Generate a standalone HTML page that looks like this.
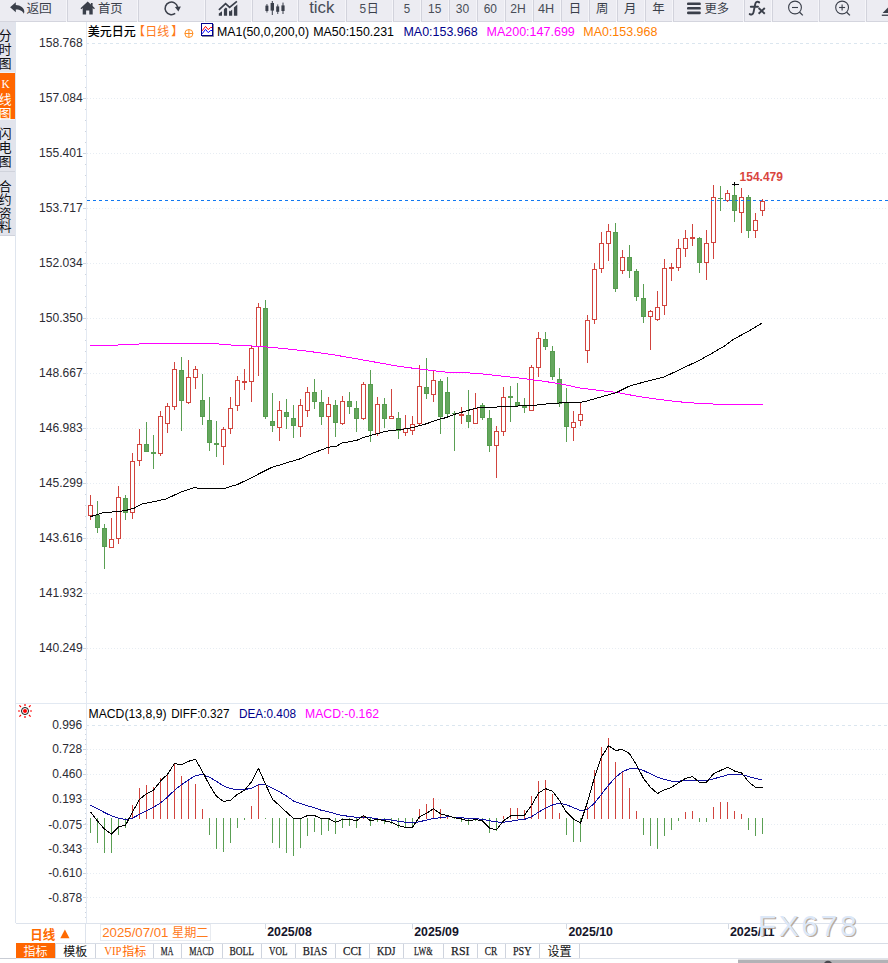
<!DOCTYPE html>
<html><head><meta charset="utf-8"><title>USDJPY</title>
<style>html,body{margin:0;padding:0;background:#fff;overflow:hidden}svg{display:block}</style>
</head><body>
<svg width="888" height="963" viewBox="0 0 888 963">
<rect width="888" height="963" fill="#fff"/>
<rect x="0" y="0" width="888" height="21" fill="#ececf2"/>
<rect x="0" y="21" width="888" height="1" fill="#d4d5de"/>
<rect x="67" y="0" width="1" height="21" fill="#d2d3dc"/>
<rect x="66" y="0" width="1" height="22" fill="#f5f5f9"/>
<rect x="138" y="0" width="1" height="21" fill="#d2d3dc"/>
<rect x="137" y="0" width="1" height="22" fill="#f5f5f9"/>
<rect x="205" y="0" width="1" height="21" fill="#d2d3dc"/>
<rect x="204" y="0" width="1" height="22" fill="#f5f5f9"/>
<rect x="252" y="0" width="1" height="21" fill="#d2d3dc"/>
<rect x="251" y="0" width="1" height="22" fill="#f5f5f9"/>
<rect x="298" y="0" width="1" height="21" fill="#d2d3dc"/>
<rect x="297" y="0" width="1" height="22" fill="#f5f5f9"/>
<rect x="346" y="0" width="1" height="21" fill="#d2d3dc"/>
<rect x="345" y="0" width="1" height="22" fill="#f5f5f9"/>
<rect x="393" y="0" width="1" height="21" fill="#d2d3dc"/>
<rect x="392" y="0" width="1" height="22" fill="#f5f5f9"/>
<rect x="421" y="0" width="1" height="21" fill="#d2d3dc"/>
<rect x="420" y="0" width="1" height="22" fill="#f5f5f9"/>
<rect x="449" y="0" width="1" height="21" fill="#d2d3dc"/>
<rect x="448" y="0" width="1" height="22" fill="#f5f5f9"/>
<rect x="477" y="0" width="1" height="21" fill="#d2d3dc"/>
<rect x="476" y="0" width="1" height="22" fill="#f5f5f9"/>
<rect x="505" y="0" width="1" height="21" fill="#d2d3dc"/>
<rect x="504" y="0" width="1" height="22" fill="#f5f5f9"/>
<rect x="533" y="0" width="1" height="21" fill="#d2d3dc"/>
<rect x="532" y="0" width="1" height="22" fill="#f5f5f9"/>
<rect x="561" y="0" width="1" height="21" fill="#d2d3dc"/>
<rect x="560" y="0" width="1" height="22" fill="#f5f5f9"/>
<rect x="589" y="0" width="1" height="21" fill="#d2d3dc"/>
<rect x="588" y="0" width="1" height="22" fill="#f5f5f9"/>
<rect x="617" y="0" width="1" height="21" fill="#d2d3dc"/>
<rect x="616" y="0" width="1" height="22" fill="#f5f5f9"/>
<rect x="645" y="0" width="1" height="21" fill="#d2d3dc"/>
<rect x="644" y="0" width="1" height="22" fill="#f5f5f9"/>
<rect x="673" y="0" width="1" height="21" fill="#d2d3dc"/>
<rect x="672" y="0" width="1" height="22" fill="#f5f5f9"/>
<rect x="744" y="0" width="1" height="21" fill="#d2d3dc"/>
<rect x="743" y="0" width="1" height="22" fill="#f5f5f9"/>
<rect x="772" y="0" width="1" height="21" fill="#d2d3dc"/>
<rect x="771" y="0" width="1" height="22" fill="#f5f5f9"/>
<rect x="819" y="0" width="1" height="21" fill="#d2d3dc"/>
<rect x="818" y="0" width="1" height="22" fill="#f5f5f9"/>
<rect x="866" y="0" width="1" height="21" fill="#d2d3dc"/>
<rect x="865" y="0" width="1" height="22" fill="#f5f5f9"/>
<path d="M10.1 7.3 L15.8 2.3 V5 C20.5 5 24.3 8 24.3 11.4 C24.3 12.4 24.1 13 23.8 13.7 C22.6 11 20.4 9.5 15.8 9.4 V12.2 Z" fill="#3a3f4a"/>
<text x="26.40" y="12.90" font-size="12.4" fill="#3a3f4a" text-anchor="start" font-family="Liberation Sans, Noto Sans CJK SC, sans-serif" textLength="25.40" lengthAdjust="spacingAndGlyphs">返回</text>
<path d="M87.7 1.5 L90.9 4.4 V3 H92.6 V6 L94.9 8.2 L94 9.2 L92.7 8 V14.6 H89.3 V10.4 H86.1 V14.6 H82.7 V8 L81.4 9.2 L80.5 8.2 Z" fill="#3a3f4a"/>
<text x="97.90" y="12.90" font-size="12.4" fill="#3a3f4a" text-anchor="start" font-family="Liberation Sans, Noto Sans CJK SC, sans-serif" textLength="24.70" lengthAdjust="spacingAndGlyphs">首页</text>
<path d="M175.2 13.4 A6.3 6.3 0 1 1 177.6 7.0" fill="none" stroke="#3a3f4a" stroke-width="1.5"/>
<path d="M174.9 7.1 L180.9 6.6 L178.4 11.6 Z" fill="#3a3f4a"/>
<g fill="#3a3f4a"><path d="M218.8 13.6 L222 11.2 V15.8 H218.8 Z"/><path d="M223.9 9.2 L225.8 7.4 L227.1 8.6 V15.8 H223.9 Z"/><path d="M229 10.6 L230 11.4 L232.2 9.4 V15.8 H229 Z"/><path d="M233.9 7.6 L237.3 4.6 V15.8 H233.9 Z"/></g>
<path d="M218.9 9.9 L225.6 3.7 L229.6 7.3 L236.9 1.3" fill="none" stroke="#3a3f4a" stroke-width="1.7"/>
<g fill="#3a3f4a"><rect x="265.4" y="5.6" width="3" height="5.4"/><rect x="266.5" y="4" width="0.9" height="8.6"/><rect x="270.6" y="3" width="3.4" height="7.6"/><rect x="271.8" y="1" width="1" height="14"/><rect x="276.2" y="6.4" width="3" height="5.4"/><rect x="277.3" y="4.4" width="0.9" height="9.6"/><rect x="281.4" y="5.4" width="3.2" height="5.6"/><rect x="282.5" y="2.6" width="1" height="11.4"/></g>
<text x="309.20" y="13.30" font-size="16" fill="#484c57" text-anchor="start" font-weight="normal" font-family="Liberation Sans, sans-serif" textLength="25.30" lengthAdjust="spacingAndGlyphs">tick</text>
<text x="359.50" y="12.80" font-size="13" fill="#484c57" text-anchor="start" font-weight="normal" font-family="Liberation Sans, sans-serif" textLength="6.60" lengthAdjust="spacingAndGlyphs">5</text>
<text x="366.80" y="12.80" font-size="12" fill="#3a3f4a" text-anchor="start" font-family="Liberation Sans, Noto Sans CJK SC, sans-serif">日</text>
<text x="403.70" y="12.80" font-size="13" fill="#484c57" text-anchor="start" font-weight="normal" font-family="Liberation Sans, sans-serif" textLength="6.40" lengthAdjust="spacingAndGlyphs">5</text>
<text x="428.00" y="12.80" font-size="13" fill="#484c57" text-anchor="start" font-weight="normal" font-family="Liberation Sans, sans-serif" textLength="13.30" lengthAdjust="spacingAndGlyphs">15</text>
<text x="455.80" y="12.80" font-size="13" fill="#484c57" text-anchor="start" font-weight="normal" font-family="Liberation Sans, sans-serif" textLength="13.40" lengthAdjust="spacingAndGlyphs">30</text>
<text x="483.70" y="12.80" font-size="13" fill="#484c57" text-anchor="start" font-weight="normal" font-family="Liberation Sans, sans-serif" textLength="13.30" lengthAdjust="spacingAndGlyphs">60</text>
<text x="510.30" y="12.80" font-size="13" fill="#484c57" text-anchor="start" font-weight="normal" font-family="Liberation Sans, sans-serif" textLength="15.50" lengthAdjust="spacingAndGlyphs">2H</text>
<text x="538.00" y="12.80" font-size="13" fill="#484c57" text-anchor="start" font-weight="normal" font-family="Liberation Sans, sans-serif" textLength="16.20" lengthAdjust="spacingAndGlyphs">4H</text>
<text x="568.70" y="12.90" font-size="12.4" fill="#3a3f4a" text-anchor="start" font-family="Liberation Sans, Noto Sans CJK SC, sans-serif">日</text>
<text x="596.10" y="12.90" font-size="12.4" fill="#3a3f4a" text-anchor="start" font-family="Liberation Sans, Noto Sans CJK SC, sans-serif">周</text>
<text x="623.90" y="12.90" font-size="12.4" fill="#3a3f4a" text-anchor="start" font-family="Liberation Sans, Noto Sans CJK SC, sans-serif">月</text>
<text x="652.20" y="12.90" font-size="12.4" fill="#3a3f4a" text-anchor="start" font-family="Liberation Sans, Noto Sans CJK SC, sans-serif">年</text>
<rect x="687" y="2.4" width="13.8" height="2.7" rx="1.2" fill="#3a3f4a"/>
<rect x="687" y="6.9" width="13.8" height="2.7" rx="1.2" fill="#3a3f4a"/>
<rect x="687" y="11.5" width="13.8" height="2.7" rx="1.2" fill="#3a3f4a"/>
<text x="704.50" y="12.90" font-size="12.4" fill="#3a3f4a" text-anchor="start" font-family="Liberation Sans, Noto Sans CJK SC, sans-serif" textLength="24.60" lengthAdjust="spacingAndGlyphs">更多</text>
<path d="M759.2 2.4 C757.6 1.3 755.7 1.7 755.2 4.2 L753.5 12.4 C753 14.6 751.4 15 749.7 14.1 M750.8 6.8 H758" fill="none" stroke="#3a3f4a" stroke-width="1.9" stroke-linecap="round"/>
<path d="M758.6 8 L764.8 13.8 M764.8 8 L758.6 13.8" stroke="#3a3f4a" stroke-width="1.9" fill="none"/>
<circle cx="795" cy="7.5" r="6.4" fill="none" stroke="#3a3f4a" stroke-width="1.1"/>
<path d="M799.6 12.2 L802.8 15.4" stroke="#3a3f4a" stroke-width="1.3"/>
<path d="M792 7.5 H798" stroke="#3a3f4a" stroke-width="1.1"/>
<circle cx="842.1" cy="7.5" r="6.4" fill="none" stroke="#3a3f4a" stroke-width="1.1"/>
<path d="M846.7 12.2 L849.9 15.4" stroke="#3a3f4a" stroke-width="1.3"/>
<path d="M839.1 7.5 H845.1" stroke="#3a3f4a" stroke-width="1.1"/>
<path d="M842.1 4.5 V10.5" stroke="#3a3f4a" stroke-width="1.1"/>
<path d="M888 7.6 L882.6 13 H888 Z" fill="#3a3f4a"/>
<rect x="881.8" y="14.6" width="6.2" height="1.3" fill="#3a3f4a"/>
<rect x="0" y="22" width="15" height="214" fill="#e2e4ec"/>
<rect x="15" y="22" width="1" height="901" fill="#dfe5ee"/>
<rect x="0" y="73" width="15" height="46" fill="#ff6600"/>
<rect x="0" y="72" width="15" height="1" fill="#eef0f5"/>
<rect x="0" y="119" width="15" height="1" fill="#eef0f5"/>
<rect x="0" y="171" width="15" height="1" fill="#d0d3dc"/>
<rect x="0" y="235" width="15" height="1" fill="#d0d3dc"/>
<g fill="#101014" font-size="12.8" font-family="Liberation Sans, Noto Sans CJK SC, sans-serif"><text x="-1.20" y="40.40">分</text><text x="-1.20" y="54.40">时</text><text x="-1.20" y="68.40">图</text></g>
<text x="5.6" y="87.8" font-size="11.5" fill="#fff" text-anchor="middle" font-family="Liberation Serif, serif">K</text>
<g fill="#fff" font-size="12.8" font-family="Liberation Sans, Noto Sans CJK SC, sans-serif"><text x="-1.20" y="103.80">线</text><text x="-1.20" y="117.80">图</text></g>
<g fill="#101014" font-size="12.8" font-family="Liberation Sans, Noto Sans CJK SC, sans-serif"><text x="-1.20" y="138.00">闪</text><text x="-1.20" y="151.80">电</text><text x="-1.20" y="165.60">图</text></g>
<g fill="#101014" font-size="12.8" font-family="Liberation Sans, Noto Sans CJK SC, sans-serif"><text x="-1.20" y="190.60">合</text><text x="-1.20" y="204.20">约</text><text x="-1.20" y="217.80">资</text><text x="-1.20" y="231.40">料</text></g>
<line x1="86.5" y1="22" x2="86.5" y2="923" stroke="#e3e9f2" stroke-width="1"/>
<text x="82.70" y="47.40" font-size="12" fill="#2b2b33" text-anchor="end" font-weight="normal" font-family="Liberation Sans, sans-serif" textLength="43.60" lengthAdjust="spacingAndGlyphs">158.768</text>
<line x1="86" y1="43.5" x2="888" y2="43.5" stroke="#dbe6ef" stroke-width="1" stroke-dasharray="3 3"/>
<text x="82.70" y="102.40" font-size="12" fill="#2b2b33" text-anchor="end" font-weight="normal" font-family="Liberation Sans, sans-serif" textLength="43.60" lengthAdjust="spacingAndGlyphs">157.084</text>
<line x1="87" y1="98.5" x2="888" y2="98.5" stroke="#e7edf3" stroke-width="1" stroke-dasharray="1 2"/>
<text x="82.70" y="157.40" font-size="12" fill="#2b2b33" text-anchor="end" font-weight="normal" font-family="Liberation Sans, sans-serif" textLength="43.60" lengthAdjust="spacingAndGlyphs">155.401</text>
<line x1="87" y1="153.5" x2="888" y2="153.5" stroke="#e7edf3" stroke-width="1" stroke-dasharray="1 2"/>
<text x="82.70" y="212.40" font-size="12" fill="#2b2b33" text-anchor="end" font-weight="normal" font-family="Liberation Sans, sans-serif" textLength="43.60" lengthAdjust="spacingAndGlyphs">153.717</text>
<line x1="87" y1="208.5" x2="888" y2="208.5" stroke="#e7edf3" stroke-width="1" stroke-dasharray="1 2"/>
<text x="82.70" y="267.40" font-size="12" fill="#2b2b33" text-anchor="end" font-weight="normal" font-family="Liberation Sans, sans-serif" textLength="43.60" lengthAdjust="spacingAndGlyphs">152.034</text>
<line x1="87" y1="263.5" x2="888" y2="263.5" stroke="#e7edf3" stroke-width="1" stroke-dasharray="1 2"/>
<text x="82.70" y="322.40" font-size="12" fill="#2b2b33" text-anchor="end" font-weight="normal" font-family="Liberation Sans, sans-serif" textLength="43.60" lengthAdjust="spacingAndGlyphs">150.350</text>
<line x1="87" y1="318.5" x2="888" y2="318.5" stroke="#e7edf3" stroke-width="1" stroke-dasharray="1 2"/>
<text x="82.70" y="377.40" font-size="12" fill="#2b2b33" text-anchor="end" font-weight="normal" font-family="Liberation Sans, sans-serif" textLength="43.60" lengthAdjust="spacingAndGlyphs">148.667</text>
<line x1="87" y1="373.5" x2="888" y2="373.5" stroke="#e7edf3" stroke-width="1" stroke-dasharray="1 2"/>
<text x="82.70" y="432.40" font-size="12" fill="#2b2b33" text-anchor="end" font-weight="normal" font-family="Liberation Sans, sans-serif" textLength="43.60" lengthAdjust="spacingAndGlyphs">146.983</text>
<line x1="87" y1="428.5" x2="888" y2="428.5" stroke="#e7edf3" stroke-width="1" stroke-dasharray="1 2"/>
<text x="82.70" y="487.40" font-size="12" fill="#2b2b33" text-anchor="end" font-weight="normal" font-family="Liberation Sans, sans-serif" textLength="43.60" lengthAdjust="spacingAndGlyphs">145.299</text>
<line x1="87" y1="483.5" x2="888" y2="483.5" stroke="#e7edf3" stroke-width="1" stroke-dasharray="1 2"/>
<text x="82.70" y="542.40" font-size="12" fill="#2b2b33" text-anchor="end" font-weight="normal" font-family="Liberation Sans, sans-serif" textLength="43.60" lengthAdjust="spacingAndGlyphs">143.616</text>
<line x1="87" y1="538.5" x2="888" y2="538.5" stroke="#e7edf3" stroke-width="1" stroke-dasharray="1 2"/>
<text x="82.70" y="597.40" font-size="12" fill="#2b2b33" text-anchor="end" font-weight="normal" font-family="Liberation Sans, sans-serif" textLength="43.60" lengthAdjust="spacingAndGlyphs">141.932</text>
<line x1="87" y1="593.5" x2="888" y2="593.5" stroke="#e7edf3" stroke-width="1" stroke-dasharray="1 2"/>
<text x="82.70" y="652.40" font-size="12" fill="#2b2b33" text-anchor="end" font-weight="normal" font-family="Liberation Sans, sans-serif" textLength="43.60" lengthAdjust="spacingAndGlyphs">140.249</text>
<line x1="87" y1="648.5" x2="888" y2="648.5" stroke="#e7edf3" stroke-width="1" stroke-dasharray="1 2"/>
<rect x="85" y="54" width="1" height="1" fill="#cdd4de"/>
<rect x="85" y="65" width="1" height="1" fill="#cdd4de"/>
<rect x="85" y="76" width="1" height="1" fill="#cdd4de"/>
<rect x="85" y="87" width="1" height="1" fill="#cdd4de"/>
<rect x="83" y="98" width="3" height="1" fill="#cfd6e0"/>
<rect x="85" y="109" width="1" height="1" fill="#cdd4de"/>
<rect x="85" y="120" width="1" height="1" fill="#cdd4de"/>
<rect x="85" y="131" width="1" height="1" fill="#cdd4de"/>
<rect x="85" y="142" width="1" height="1" fill="#cdd4de"/>
<rect x="83" y="153" width="3" height="1" fill="#cfd6e0"/>
<rect x="85" y="164" width="1" height="1" fill="#cdd4de"/>
<rect x="85" y="175" width="1" height="1" fill="#cdd4de"/>
<rect x="85" y="186" width="1" height="1" fill="#cdd4de"/>
<rect x="85" y="197" width="1" height="1" fill="#cdd4de"/>
<rect x="83" y="208" width="3" height="1" fill="#cfd6e0"/>
<rect x="85" y="219" width="1" height="1" fill="#cdd4de"/>
<rect x="85" y="230" width="1" height="1" fill="#cdd4de"/>
<rect x="85" y="241" width="1" height="1" fill="#cdd4de"/>
<rect x="85" y="252" width="1" height="1" fill="#cdd4de"/>
<rect x="83" y="263" width="3" height="1" fill="#cfd6e0"/>
<rect x="85" y="274" width="1" height="1" fill="#cdd4de"/>
<rect x="85" y="285" width="1" height="1" fill="#cdd4de"/>
<rect x="85" y="296" width="1" height="1" fill="#cdd4de"/>
<rect x="85" y="307" width="1" height="1" fill="#cdd4de"/>
<rect x="83" y="318" width="3" height="1" fill="#cfd6e0"/>
<rect x="85" y="329" width="1" height="1" fill="#cdd4de"/>
<rect x="85" y="340" width="1" height="1" fill="#cdd4de"/>
<rect x="85" y="351" width="1" height="1" fill="#cdd4de"/>
<rect x="85" y="362" width="1" height="1" fill="#cdd4de"/>
<rect x="83" y="373" width="3" height="1" fill="#cfd6e0"/>
<rect x="85" y="384" width="1" height="1" fill="#cdd4de"/>
<rect x="85" y="395" width="1" height="1" fill="#cdd4de"/>
<rect x="85" y="406" width="1" height="1" fill="#cdd4de"/>
<rect x="85" y="417" width="1" height="1" fill="#cdd4de"/>
<rect x="83" y="428" width="3" height="1" fill="#cfd6e0"/>
<rect x="85" y="439" width="1" height="1" fill="#cdd4de"/>
<rect x="85" y="450" width="1" height="1" fill="#cdd4de"/>
<rect x="85" y="461" width="1" height="1" fill="#cdd4de"/>
<rect x="85" y="472" width="1" height="1" fill="#cdd4de"/>
<rect x="83" y="483" width="3" height="1" fill="#cfd6e0"/>
<rect x="85" y="494" width="1" height="1" fill="#cdd4de"/>
<rect x="85" y="505" width="1" height="1" fill="#cdd4de"/>
<rect x="85" y="516" width="1" height="1" fill="#cdd4de"/>
<rect x="85" y="527" width="1" height="1" fill="#cdd4de"/>
<rect x="83" y="538" width="3" height="1" fill="#cfd6e0"/>
<rect x="85" y="549" width="1" height="1" fill="#cdd4de"/>
<rect x="85" y="560" width="1" height="1" fill="#cdd4de"/>
<rect x="85" y="571" width="1" height="1" fill="#cdd4de"/>
<rect x="85" y="582" width="1" height="1" fill="#cdd4de"/>
<rect x="83" y="593" width="3" height="1" fill="#cfd6e0"/>
<rect x="85" y="604" width="1" height="1" fill="#cdd4de"/>
<rect x="85" y="615" width="1" height="1" fill="#cdd4de"/>
<rect x="85" y="626" width="1" height="1" fill="#cdd4de"/>
<rect x="85" y="637" width="1" height="1" fill="#cdd4de"/>
<rect x="83" y="648" width="3" height="1" fill="#cfd6e0"/>
<rect x="85" y="659" width="1" height="1" fill="#cdd4de"/>
<rect x="85" y="670" width="1" height="1" fill="#cdd4de"/>
<rect x="85" y="681" width="1" height="1" fill="#cdd4de"/>
<rect x="85" y="692" width="1" height="1" fill="#cdd4de"/>
<text x="87.80" y="36.30" font-size="12" fill="#000" text-anchor="start" font-weight="500" font-family="Liberation Sans, Noto Sans CJK SC, sans-serif" textLength="48" lengthAdjust="spacingAndGlyphs">美元日元</text>
<text x="132.90" y="36.30" font-size="12" fill="#ff7a1a" text-anchor="start" font-family="Liberation Sans, Noto Sans CJK SC, sans-serif">【</text>
<text x="145.30" y="36.30" font-size="12" fill="#ff7a1a" text-anchor="start" font-family="Liberation Sans, Noto Sans CJK SC, sans-serif" textLength="23.90" lengthAdjust="spacingAndGlyphs">日线</text>
<text x="171.30" y="36.30" font-size="12" fill="#ff7a1a" text-anchor="start" font-family="Liberation Sans, Noto Sans CJK SC, sans-serif">】</text>
<circle cx="188.9" cy="33.5" r="4" fill="none" stroke="#ff8a1a" stroke-width="0.95"/>
<path d="M184.9 33.5 H192.9 M188.9 29.5 V37.5" stroke="#ff8a1a" stroke-width="0.95" fill="none"/>
<path d="M202 36.5 H213.5 V24" fill="none" stroke="#55556a" stroke-width="1" opacity="0.7"/>
<rect x="201.5" y="23.5" width="11" height="12" fill="#fff" stroke="#00008b" stroke-width="1"/>
<path d="M202.2 30.8 L205.5 26.4 L208.2 29.6 L210.6 27.5 H212" fill="none" stroke="#ff0000" stroke-width="1"/>
<path d="M202.2 33.8 L205.5 29.4 L208.2 32.6 L210.6 30.5 H212" fill="none" stroke="#0000ff" stroke-width="1"/>
<text x="217.00" y="36.00" font-size="13" fill="#000" text-anchor="start" font-weight="normal" font-family="Liberation Sans, sans-serif" textLength="92.00" lengthAdjust="spacingAndGlyphs">MA1(50,0,200,0)</text>
<text x="313.20" y="36.00" font-size="13" fill="#000" text-anchor="start" font-weight="normal" font-family="Liberation Sans, sans-serif" textLength="80.80" lengthAdjust="spacingAndGlyphs">MA50:150.231</text>
<text x="403.50" y="36.00" font-size="13" fill="#00008b" text-anchor="start" font-weight="normal" font-family="Liberation Sans, sans-serif" textLength="74.10" lengthAdjust="spacingAndGlyphs">MA0:153.968</text>
<text x="486.50" y="36.00" font-size="13" fill="#ff00ff" text-anchor="start" font-weight="normal" font-family="Liberation Sans, sans-serif" textLength="88.30" lengthAdjust="spacingAndGlyphs">MA200:147.699</text>
<text x="583.30" y="36.00" font-size="13" fill="#ff8000" text-anchor="start" font-weight="normal" font-family="Liberation Sans, sans-serif" textLength="74.10" lengthAdjust="spacingAndGlyphs">MA0:153.968</text>
<g shape-rendering="crispEdges"><rect x="90" y="495" width="1" height="10" fill="#d1443e"/><rect x="90" y="516" width="1" height="4" fill="#d1443e"/><rect x="88.5" y="505.5" width="4" height="10" fill="#fff" stroke="#d1443e" stroke-width="1"/><rect x="97" y="501" width="1" height="32" fill="#5a9f53"/><rect x="95.5" y="515.5" width="4" height="12" fill="#64a75d" stroke="#569c4f" stroke-width="1"/><rect x="104" y="524" width="1" height="45" fill="#5a9f53"/><rect x="102.5" y="528.5" width="4" height="18" fill="#64a75d" stroke="#569c4f" stroke-width="1"/><rect x="111" y="518" width="1" height="21" fill="#d1443e"/><rect x="109.5" y="539.5" width="4" height="8" fill="#fff" stroke="#d1443e" stroke-width="1"/><rect x="118" y="486" width="1" height="11" fill="#d1443e"/><rect x="118" y="539" width="1" height="5" fill="#d1443e"/><rect x="116.5" y="497.5" width="4" height="41" fill="#fff" stroke="#d1443e" stroke-width="1"/><rect x="125" y="495" width="1" height="25" fill="#5a9f53"/><rect x="123.5" y="498.5" width="4" height="14" fill="#64a75d" stroke="#569c4f" stroke-width="1"/><rect x="132" y="453" width="1" height="8" fill="#d1443e"/><rect x="132" y="513" width="1" height="6" fill="#d1443e"/><rect x="130.5" y="461.5" width="4" height="51" fill="#fff" stroke="#d1443e" stroke-width="1"/><rect x="139" y="429" width="1" height="15" fill="#d1443e"/><rect x="139" y="461" width="1" height="5" fill="#d1443e"/><rect x="137.5" y="444.5" width="4" height="16" fill="#fff" stroke="#d1443e" stroke-width="1"/><rect x="146" y="422" width="1" height="30" fill="#5a9f53"/><rect x="144.5" y="444.5" width="4" height="7" fill="#64a75d" stroke="#569c4f" stroke-width="1"/><rect x="153" y="435" width="1" height="34" fill="#5a9f53"/><rect x="151" y="452" width="5" height="2" fill="#5a9f53"/><rect x="160" y="411" width="1" height="5" fill="#d1443e"/><rect x="160" y="454" width="1" height="2" fill="#d1443e"/><rect x="158.5" y="416.5" width="4" height="37" fill="#fff" stroke="#d1443e" stroke-width="1"/><rect x="167" y="403" width="1" height="3" fill="#d1443e"/><rect x="167" y="424" width="1" height="9" fill="#d1443e"/><rect x="165.5" y="406.5" width="4" height="17" fill="#fff" stroke="#d1443e" stroke-width="1"/><rect x="174" y="362" width="1" height="7" fill="#d1443e"/><rect x="174" y="407" width="1" height="3" fill="#d1443e"/><rect x="172.5" y="369.5" width="4" height="37" fill="#fff" stroke="#d1443e" stroke-width="1"/><rect x="181" y="357" width="1" height="74" fill="#5a9f53"/><rect x="179.5" y="370.5" width="4" height="30" fill="#64a75d" stroke="#569c4f" stroke-width="1"/><rect x="188" y="360" width="1" height="17" fill="#d1443e"/><rect x="188" y="403" width="1" height="1" fill="#d1443e"/><rect x="186.5" y="377.5" width="4" height="25" fill="#fff" stroke="#d1443e" stroke-width="1"/><rect x="195" y="366" width="1" height="3" fill="#d1443e"/><rect x="195" y="378" width="1" height="11" fill="#d1443e"/><rect x="193.5" y="369.5" width="4" height="8" fill="#fff" stroke="#d1443e" stroke-width="1"/><rect x="202" y="374" width="1" height="51" fill="#5a9f53"/><rect x="200.5" y="400.5" width="4" height="16" fill="#64a75d" stroke="#569c4f" stroke-width="1"/><rect x="209" y="397" width="1" height="54" fill="#5a9f53"/><rect x="207.5" y="420.5" width="4" height="22" fill="#64a75d" stroke="#569c4f" stroke-width="1"/><rect x="216" y="421" width="1" height="36" fill="#5a9f53"/><rect x="214" y="443" width="5" height="2" fill="#5a9f53"/><rect x="223" y="427" width="1" height="2" fill="#d1443e"/><rect x="223" y="447" width="1" height="18" fill="#d1443e"/><rect x="221.5" y="429.5" width="4" height="17" fill="#fff" stroke="#d1443e" stroke-width="1"/><rect x="230" y="397" width="1" height="11" fill="#d1443e"/><rect x="230" y="429" width="1" height="5" fill="#d1443e"/><rect x="228.5" y="408.5" width="4" height="20" fill="#fff" stroke="#d1443e" stroke-width="1"/><rect x="237" y="376" width="1" height="4" fill="#d1443e"/><rect x="237" y="406" width="1" height="5" fill="#d1443e"/><rect x="235.5" y="380.5" width="4" height="25" fill="#fff" stroke="#d1443e" stroke-width="1"/><rect x="244" y="369" width="1" height="12" fill="#d1443e"/><rect x="244" y="383" width="1" height="7" fill="#d1443e"/><rect x="242.5" y="381.5" width="4" height="1" fill="#fff" stroke="#d1443e" stroke-width="1"/><rect x="251" y="346" width="1" height="2" fill="#d1443e"/><rect x="251" y="382" width="1" height="20" fill="#d1443e"/><rect x="249.5" y="348.5" width="4" height="33" fill="#fff" stroke="#d1443e" stroke-width="1"/><rect x="258" y="303" width="1" height="4" fill="#d1443e"/><rect x="258" y="347" width="1" height="29" fill="#d1443e"/><rect x="256.5" y="307.5" width="4" height="39" fill="#fff" stroke="#d1443e" stroke-width="1"/><rect x="265" y="300" width="1" height="119" fill="#5a9f53"/><rect x="263.5" y="308.5" width="4" height="108" fill="#64a75d" stroke="#569c4f" stroke-width="1"/><rect x="272" y="393" width="1" height="39" fill="#5a9f53"/><rect x="270.5" y="421.5" width="4" height="4" fill="#64a75d" stroke="#569c4f" stroke-width="1"/><rect x="279" y="401" width="1" height="9" fill="#d1443e"/><rect x="279" y="428" width="1" height="13" fill="#d1443e"/><rect x="277.5" y="410.5" width="4" height="17" fill="#fff" stroke="#d1443e" stroke-width="1"/><rect x="286" y="399" width="1" height="30" fill="#5a9f53"/><rect x="284.5" y="412.5" width="4" height="4" fill="#64a75d" stroke="#569c4f" stroke-width="1"/><rect x="293" y="405" width="1" height="33" fill="#5a9f53"/><rect x="291.5" y="418.5" width="4" height="7" fill="#64a75d" stroke="#569c4f" stroke-width="1"/><rect x="300" y="399" width="1" height="6" fill="#d1443e"/><rect x="300" y="427" width="1" height="10" fill="#d1443e"/><rect x="298.5" y="405.5" width="4" height="21" fill="#fff" stroke="#d1443e" stroke-width="1"/><rect x="307" y="387" width="1" height="5" fill="#d1443e"/><rect x="307" y="411" width="1" height="6" fill="#d1443e"/><rect x="305.5" y="392.5" width="4" height="18" fill="#fff" stroke="#d1443e" stroke-width="1"/><rect x="314" y="379" width="1" height="30" fill="#5a9f53"/><rect x="312.5" y="392.5" width="4" height="9" fill="#64a75d" stroke="#569c4f" stroke-width="1"/><rect x="321" y="390" width="1" height="35" fill="#5a9f53"/><rect x="319.5" y="402.5" width="4" height="14" fill="#64a75d" stroke="#569c4f" stroke-width="1"/><rect x="328" y="397" width="1" height="7" fill="#d1443e"/><rect x="328" y="417" width="1" height="37" fill="#d1443e"/><rect x="326.5" y="404.5" width="4" height="12" fill="#fff" stroke="#d1443e" stroke-width="1"/><rect x="335" y="400" width="1" height="37" fill="#5a9f53"/><rect x="333.5" y="405.5" width="4" height="17" fill="#64a75d" stroke="#569c4f" stroke-width="1"/><rect x="342" y="396" width="1" height="5" fill="#d1443e"/><rect x="342" y="424" width="1" height="1" fill="#d1443e"/><rect x="340.5" y="401.5" width="4" height="22" fill="#fff" stroke="#d1443e" stroke-width="1"/><rect x="349" y="392" width="1" height="22" fill="#5a9f53"/><rect x="347.5" y="401.5" width="4" height="5" fill="#64a75d" stroke="#569c4f" stroke-width="1"/><rect x="356" y="401" width="1" height="31" fill="#5a9f53"/><rect x="354.5" y="408.5" width="4" height="10" fill="#64a75d" stroke="#569c4f" stroke-width="1"/><rect x="363" y="382" width="1" height="2" fill="#d1443e"/><rect x="363" y="419" width="1" height="1" fill="#d1443e"/><rect x="361.5" y="384.5" width="4" height="34" fill="#fff" stroke="#d1443e" stroke-width="1"/><rect x="370" y="370" width="1" height="72" fill="#5a9f53"/><rect x="368.5" y="384.5" width="4" height="46" fill="#64a75d" stroke="#569c4f" stroke-width="1"/><rect x="377" y="397" width="1" height="7" fill="#d1443e"/><rect x="377" y="434" width="1" height="2" fill="#d1443e"/><rect x="375.5" y="404.5" width="4" height="29" fill="#fff" stroke="#d1443e" stroke-width="1"/><rect x="384" y="398" width="1" height="30" fill="#5a9f53"/><rect x="382.5" y="404.5" width="4" height="14" fill="#64a75d" stroke="#569c4f" stroke-width="1"/><rect x="391" y="389" width="1" height="27" fill="#d1443e"/><rect x="389.5" y="416.5" width="4" height="2" fill="#fff" stroke="#d1443e" stroke-width="1"/><rect x="398" y="412" width="1" height="27" fill="#5a9f53"/><rect x="396.5" y="418.5" width="4" height="12" fill="#64a75d" stroke="#569c4f" stroke-width="1"/><rect x="405" y="415" width="1" height="13" fill="#d1443e"/><rect x="405" y="433" width="1" height="3" fill="#d1443e"/><rect x="403.5" y="428.5" width="4" height="4" fill="#fff" stroke="#d1443e" stroke-width="1"/><rect x="412" y="416" width="1" height="8" fill="#d1443e"/><rect x="412" y="431" width="1" height="4" fill="#d1443e"/><rect x="410.5" y="424.5" width="4" height="6" fill="#fff" stroke="#d1443e" stroke-width="1"/><rect x="419" y="365" width="1" height="21" fill="#d1443e"/><rect x="419" y="424" width="1" height="2" fill="#d1443e"/><rect x="417.5" y="386.5" width="4" height="37" fill="#fff" stroke="#d1443e" stroke-width="1"/><rect x="426" y="358" width="1" height="41" fill="#5a9f53"/><rect x="424.5" y="387.5" width="4" height="6" fill="#64a75d" stroke="#569c4f" stroke-width="1"/><rect x="433" y="371" width="1" height="9" fill="#d1443e"/><rect x="433" y="395" width="1" height="7" fill="#d1443e"/><rect x="431.5" y="380.5" width="4" height="14" fill="#fff" stroke="#d1443e" stroke-width="1"/><rect x="440" y="379" width="1" height="55" fill="#5a9f53"/><rect x="438.5" y="381.5" width="4" height="35" fill="#64a75d" stroke="#569c4f" stroke-width="1"/><rect x="447" y="377" width="1" height="40" fill="#5a9f53"/><rect x="445.5" y="392.5" width="4" height="21" fill="#64a75d" stroke="#569c4f" stroke-width="1"/><rect x="454" y="411" width="1" height="40" fill="#5a9f53"/><rect x="452" y="413" width="5" height="1" fill="#5a9f53"/><rect x="461" y="407" width="1" height="7" fill="#d1443e"/><rect x="461" y="416" width="1" height="8" fill="#d1443e"/><rect x="459.5" y="414.5" width="4" height="1" fill="#fff" stroke="#d1443e" stroke-width="1"/><rect x="468" y="390" width="1" height="38" fill="#5a9f53"/><rect x="466.5" y="415.5" width="4" height="6" fill="#64a75d" stroke="#569c4f" stroke-width="1"/><rect x="475" y="393" width="1" height="15" fill="#d1443e"/><rect x="473.5" y="408.5" width="4" height="15" fill="#fff" stroke="#d1443e" stroke-width="1"/><rect x="482" y="403" width="1" height="17" fill="#5a9f53"/><rect x="480.5" y="405.5" width="4" height="12" fill="#64a75d" stroke="#569c4f" stroke-width="1"/><rect x="489" y="410" width="1" height="42" fill="#5a9f53"/><rect x="487.5" y="418.5" width="4" height="27" fill="#64a75d" stroke="#569c4f" stroke-width="1"/><rect x="496" y="426" width="1" height="5" fill="#d1443e"/><rect x="496" y="446" width="1" height="32" fill="#d1443e"/><rect x="494.5" y="431.5" width="4" height="14" fill="#fff" stroke="#d1443e" stroke-width="1"/><rect x="503" y="387" width="1" height="10" fill="#d1443e"/><rect x="503" y="432" width="1" height="4" fill="#d1443e"/><rect x="501.5" y="397.5" width="4" height="34" fill="#fff" stroke="#d1443e" stroke-width="1"/><rect x="510" y="386" width="1" height="36" fill="#5a9f53"/><rect x="508" y="396" width="5" height="2" fill="#5a9f53"/><rect x="517" y="383" width="1" height="24" fill="#5a9f53"/><rect x="515.5" y="402.5" width="4" height="3" fill="#64a75d" stroke="#569c4f" stroke-width="1"/><rect x="524" y="398" width="1" height="15" fill="#5a9f53"/><rect x="522" y="406" width="5" height="2" fill="#5a9f53"/><rect x="531" y="365" width="1" height="2" fill="#d1443e"/><rect x="529.5" y="367.5" width="4" height="43" fill="#fff" stroke="#d1443e" stroke-width="1"/><rect x="538" y="332" width="1" height="6" fill="#d1443e"/><rect x="538" y="368" width="1" height="9" fill="#d1443e"/><rect x="536.5" y="338.5" width="4" height="29" fill="#fff" stroke="#d1443e" stroke-width="1"/><rect x="545" y="332" width="1" height="18" fill="#5a9f53"/><rect x="543.5" y="339.5" width="4" height="7" fill="#64a75d" stroke="#569c4f" stroke-width="1"/><rect x="552" y="346" width="1" height="34" fill="#5a9f53"/><rect x="550.5" y="351.5" width="4" height="25" fill="#64a75d" stroke="#569c4f" stroke-width="1"/><rect x="559" y="368" width="1" height="39" fill="#5a9f53"/><rect x="557.5" y="379.5" width="4" height="24" fill="#64a75d" stroke="#569c4f" stroke-width="1"/><rect x="566" y="388" width="1" height="54" fill="#5a9f53"/><rect x="564.5" y="402.5" width="4" height="24" fill="#64a75d" stroke="#569c4f" stroke-width="1"/><rect x="573" y="411" width="1" height="11" fill="#d1443e"/><rect x="573" y="428" width="1" height="13" fill="#d1443e"/><rect x="571.5" y="422.5" width="4" height="5" fill="#fff" stroke="#d1443e" stroke-width="1"/><rect x="580" y="402" width="1" height="12" fill="#d1443e"/><rect x="580" y="421" width="1" height="5" fill="#d1443e"/><rect x="578.5" y="414.5" width="4" height="6" fill="#fff" stroke="#d1443e" stroke-width="1"/><rect x="587" y="315" width="1" height="5" fill="#d1443e"/><rect x="587" y="351" width="1" height="12" fill="#d1443e"/><rect x="585.5" y="320.5" width="4" height="30" fill="#fff" stroke="#d1443e" stroke-width="1"/><rect x="594" y="263" width="1" height="6" fill="#d1443e"/><rect x="594" y="320" width="1" height="4" fill="#d1443e"/><rect x="592.5" y="269.5" width="4" height="50" fill="#fff" stroke="#d1443e" stroke-width="1"/><rect x="601" y="232" width="1" height="11" fill="#d1443e"/><rect x="601" y="269" width="1" height="4" fill="#d1443e"/><rect x="599.5" y="243.5" width="4" height="25" fill="#fff" stroke="#d1443e" stroke-width="1"/><rect x="608" y="224" width="1" height="7" fill="#d1443e"/><rect x="608" y="244" width="1" height="17" fill="#d1443e"/><rect x="606.5" y="231.5" width="4" height="12" fill="#fff" stroke="#d1443e" stroke-width="1"/><rect x="615" y="223" width="1" height="69" fill="#5a9f53"/><rect x="613.5" y="232.5" width="4" height="56" fill="#64a75d" stroke="#569c4f" stroke-width="1"/><rect x="622" y="250" width="1" height="7" fill="#d1443e"/><rect x="622" y="271" width="1" height="3" fill="#d1443e"/><rect x="620.5" y="257.5" width="4" height="13" fill="#fff" stroke="#d1443e" stroke-width="1"/><rect x="629" y="245" width="1" height="33" fill="#5a9f53"/><rect x="627.5" y="257.5" width="4" height="13" fill="#64a75d" stroke="#569c4f" stroke-width="1"/><rect x="636" y="269" width="1" height="32" fill="#5a9f53"/><rect x="634.5" y="271.5" width="4" height="25" fill="#64a75d" stroke="#569c4f" stroke-width="1"/><rect x="643" y="284" width="1" height="39" fill="#5a9f53"/><rect x="641.5" y="298.5" width="4" height="18" fill="#64a75d" stroke="#569c4f" stroke-width="1"/><rect x="650" y="310" width="1" height="1" fill="#d1443e"/><rect x="650" y="317" width="1" height="33" fill="#d1443e"/><rect x="648.5" y="311.5" width="4" height="5" fill="#fff" stroke="#d1443e" stroke-width="1"/><rect x="657" y="291" width="1" height="16" fill="#d1443e"/><rect x="657" y="320" width="1" height="1" fill="#d1443e"/><rect x="655.5" y="307.5" width="4" height="12" fill="#fff" stroke="#d1443e" stroke-width="1"/><rect x="664" y="259" width="1" height="9" fill="#d1443e"/><rect x="664" y="306" width="1" height="9" fill="#d1443e"/><rect x="662.5" y="268.5" width="4" height="37" fill="#fff" stroke="#d1443e" stroke-width="1"/><rect x="671" y="263" width="1" height="4" fill="#d1443e"/><rect x="671" y="269" width="1" height="12" fill="#d1443e"/><rect x="669.5" y="267.5" width="4" height="1" fill="#fff" stroke="#d1443e" stroke-width="1"/><rect x="678" y="239" width="1" height="9" fill="#d1443e"/><rect x="678" y="268" width="1" height="3" fill="#d1443e"/><rect x="676.5" y="248.5" width="4" height="19" fill="#fff" stroke="#d1443e" stroke-width="1"/><rect x="685" y="230" width="1" height="8" fill="#d1443e"/><rect x="685" y="249" width="1" height="8" fill="#d1443e"/><rect x="683.5" y="238.5" width="4" height="10" fill="#fff" stroke="#d1443e" stroke-width="1"/><rect x="692" y="224" width="1" height="13" fill="#d1443e"/><rect x="692" y="239" width="1" height="7" fill="#d1443e"/><rect x="690.5" y="237.5" width="4" height="1" fill="#fff" stroke="#d1443e" stroke-width="1"/><rect x="699" y="237" width="1" height="36" fill="#5a9f53"/><rect x="697.5" y="238.5" width="4" height="24" fill="#64a75d" stroke="#569c4f" stroke-width="1"/><rect x="706" y="230" width="1" height="13" fill="#d1443e"/><rect x="706" y="263" width="1" height="17" fill="#d1443e"/><rect x="704.5" y="243.5" width="4" height="19" fill="#fff" stroke="#d1443e" stroke-width="1"/><rect x="713" y="185" width="1" height="12" fill="#d1443e"/><rect x="713" y="243" width="1" height="16" fill="#d1443e"/><rect x="711.5" y="197.5" width="4" height="45" fill="#fff" stroke="#d1443e" stroke-width="1"/><rect x="720" y="186" width="1" height="25" fill="#5a9f53"/><rect x="718" y="198" width="5" height="1" fill="#5a9f53"/><rect x="727" y="190" width="1" height="3" fill="#d1443e"/><rect x="727" y="201" width="1" height="1" fill="#d1443e"/><rect x="725.5" y="193.5" width="4" height="7" fill="#fff" stroke="#d1443e" stroke-width="1"/><rect x="734" y="184" width="1" height="38" fill="#5a9f53"/><rect x="732.5" y="195.5" width="4" height="15" fill="#64a75d" stroke="#569c4f" stroke-width="1"/><rect x="741" y="188" width="1" height="9" fill="#d1443e"/><rect x="741" y="213" width="1" height="20" fill="#d1443e"/><rect x="739.5" y="197.5" width="4" height="15" fill="#fff" stroke="#d1443e" stroke-width="1"/><rect x="748" y="195" width="1" height="43" fill="#5a9f53"/><rect x="746.5" y="197.5" width="4" height="33" fill="#64a75d" stroke="#569c4f" stroke-width="1"/><rect x="755" y="213" width="1" height="7" fill="#d1443e"/><rect x="755" y="231" width="1" height="7" fill="#d1443e"/><rect x="753.5" y="220.5" width="4" height="10" fill="#fff" stroke="#d1443e" stroke-width="1"/><rect x="762" y="199" width="1" height="2" fill="#d1443e"/><rect x="762" y="211" width="1" height="5" fill="#d1443e"/><rect x="760.5" y="201.5" width="4" height="9" fill="#fff" stroke="#d1443e" stroke-width="1"/></g>
<polyline points="90.0,345.5 130.0,344.8 144.0,343.5 213.0,343.5 234.0,345.3 259.0,346.3 280.0,348.2 303.0,350.6 332.0,354.5 370.0,361.2 399.0,366.4 420.0,369.1 445.0,372.0 477.0,373.3 518.0,377.9 539.0,380.6 560.0,383.7 580.0,388.0 596.0,390.0 617.0,392.5 637.0,396.2 658.0,399.3 679.0,401.8 700.0,403.5 725.0,404.5 762.5,405.0" fill="none" stroke="#ff00ff" stroke-width="1" stroke-linejoin="round" shape-rendering="crispEdges"/>
<polyline points="90.5,516.6 97.8,514.5 102.8,512.6 115.6,511.8 125.4,510.6 134.3,508.1 141.2,504.2 156.0,501.2 166.0,499.0 180.6,492.2 195.1,487.4 199.3,488.5 224.2,488.5 238.0,484.3 252.7,477.0 271.3,467.6 288.0,462.4 299.1,459.2 309.5,454.5 328.2,447.3 336.5,446.2 341.7,443.1 356.3,440.5 363.5,437.4 376.0,434.0 386.4,431.2 398.9,429.7 412.4,427.7 425.9,423.9 440.4,418.9 445.4,417.8 455.8,413.9 476.6,408.0 497.3,407.0 518.1,406.0 538.9,404.9 551.3,403.3 580.4,402.2 585.4,401.4 600.0,397.2 616.6,392.5 629.0,386.2 647.7,381.0 664.3,376.9 678.9,370.0 699.7,360.2 710.0,354.4 725.0,345.7 734.0,339.0 746.4,332.4 762.5,322.9" fill="none" stroke="#000" stroke-width="1" stroke-linejoin="round" shape-rendering="crispEdges"/>
<line x1="87" y1="200.5" x2="888" y2="200.5" stroke="#0f78f2" stroke-width="1" stroke-dasharray="3 3"/>
<text x="739.60" y="181.30" font-size="12" fill="#d9463e" text-anchor="start" font-weight="bold" font-family="Liberation Sans, sans-serif">154.479</text>
<path d="M732 184.5 H739 M734.5 182 V186" stroke="#000" stroke-width="1" fill="none" shape-rendering="crispEdges"/>
<line x1="16" y1="703.5" x2="888" y2="703.5" stroke="#e2e9f2" stroke-width="1"/>
<circle cx="25" cy="711" r="2" fill="#f00"/>
<circle cx="25" cy="711" r="3.5" fill="none" stroke="#111" stroke-width="1"/>
<path d="M25 704 V706.1 M25 715.9 V718 M18 711 H20.1 M29.9 711 H32 M19.4 705.4 L21 707 M29 715 L30.6 716.6 M19.4 716.6 L21 715 M29 707 L30.6 705.4" stroke="#f00" stroke-width="1.2" fill="none"/>
<text x="88.50" y="718.40" font-size="13" fill="#000" text-anchor="start" font-weight="normal" font-family="Liberation Sans, sans-serif" textLength="78.00" lengthAdjust="spacingAndGlyphs">MACD(13,8,9)</text>
<text x="171.20" y="718.40" font-size="13" fill="#000" text-anchor="start" font-weight="normal" font-family="Liberation Sans, sans-serif" textLength="58.40" lengthAdjust="spacingAndGlyphs">DIFF:0.327</text>
<text x="239.00" y="718.40" font-size="13" fill="#00008b" text-anchor="start" font-weight="normal" font-family="Liberation Sans, sans-serif" textLength="57.00" lengthAdjust="spacingAndGlyphs">DEA:0.408</text>
<text x="305.00" y="718.40" font-size="13" fill="#ff00ff" text-anchor="start" font-weight="normal" font-family="Liberation Sans, sans-serif" textLength="74.00" lengthAdjust="spacingAndGlyphs">MACD:-0.162</text>
<text x="82.20" y="728.80" font-size="12" fill="#2b2b33" text-anchor="end" font-weight="normal" font-family="Liberation Sans, sans-serif">0.996</text>
<line x1="86" y1="725.5" x2="888" y2="725.5" stroke="#dbe6ef" stroke-width="1" stroke-dasharray="3 3"/>
<text x="82.20" y="752.90" font-size="12" fill="#2b2b33" text-anchor="end" font-weight="normal" font-family="Liberation Sans, sans-serif">0.728</text>
<line x1="87" y1="749.5" x2="888" y2="749.5" stroke="#e7edf3" stroke-width="1" stroke-dasharray="1 2"/>
<rect x="83" y="749" width="3" height="1" fill="#cfd6e0"/>
<text x="82.20" y="778.30" font-size="12" fill="#2b2b33" text-anchor="end" font-weight="normal" font-family="Liberation Sans, sans-serif">0.460</text>
<line x1="87" y1="774.5" x2="888" y2="774.5" stroke="#e7edf3" stroke-width="1" stroke-dasharray="1 2"/>
<rect x="83" y="774" width="3" height="1" fill="#cfd6e0"/>
<text x="82.20" y="803.30" font-size="12" fill="#2b2b33" text-anchor="end" font-weight="normal" font-family="Liberation Sans, sans-serif">0.193</text>
<line x1="87" y1="799.5" x2="888" y2="799.5" stroke="#e7edf3" stroke-width="1" stroke-dasharray="1 2"/>
<rect x="83" y="799" width="3" height="1" fill="#cfd6e0"/>
<text x="82.20" y="828.50" font-size="12" fill="#2b2b33" text-anchor="end" font-weight="normal" font-family="Liberation Sans, sans-serif">-0.075</text>
<line x1="87" y1="824.5" x2="888" y2="824.5" stroke="#e7edf3" stroke-width="1" stroke-dasharray="1 2"/>
<rect x="83" y="824" width="3" height="1" fill="#cfd6e0"/>
<text x="82.20" y="852.80" font-size="12" fill="#2b2b33" text-anchor="end" font-weight="normal" font-family="Liberation Sans, sans-serif">-0.343</text>
<line x1="87" y1="848.5" x2="888" y2="848.5" stroke="#e7edf3" stroke-width="1" stroke-dasharray="1 2"/>
<rect x="83" y="848" width="3" height="1" fill="#cfd6e0"/>
<text x="82.20" y="877.30" font-size="12" fill="#2b2b33" text-anchor="end" font-weight="normal" font-family="Liberation Sans, sans-serif">-0.610</text>
<line x1="87" y1="873.5" x2="888" y2="873.5" stroke="#e7edf3" stroke-width="1" stroke-dasharray="1 2"/>
<rect x="83" y="873" width="3" height="1" fill="#cfd6e0"/>
<text x="82.20" y="901.80" font-size="12" fill="#2b2b33" text-anchor="end" font-weight="normal" font-family="Liberation Sans, sans-serif">-0.878</text>
<line x1="87" y1="897.5" x2="888" y2="897.5" stroke="#e7edf3" stroke-width="1" stroke-dasharray="1 2"/>
<rect x="83" y="897" width="3" height="1" fill="#cfd6e0"/>
<rect x="85" y="729" width="1" height="1" fill="#cdd4de"/>
<rect x="85" y="734" width="1" height="1" fill="#cdd4de"/>
<rect x="85" y="739" width="1" height="1" fill="#cdd4de"/>
<rect x="85" y="744" width="1" height="1" fill="#cdd4de"/>
<rect x="85" y="749" width="1" height="1" fill="#cdd4de"/>
<rect x="85" y="754" width="1" height="1" fill="#cdd4de"/>
<rect x="85" y="759" width="1" height="1" fill="#cdd4de"/>
<rect x="85" y="764" width="1" height="1" fill="#cdd4de"/>
<rect x="85" y="769" width="1" height="1" fill="#cdd4de"/>
<rect x="85" y="774" width="1" height="1" fill="#cdd4de"/>
<rect x="85" y="779" width="1" height="1" fill="#cdd4de"/>
<rect x="85" y="784" width="1" height="1" fill="#cdd4de"/>
<rect x="85" y="789" width="1" height="1" fill="#cdd4de"/>
<rect x="85" y="794" width="1" height="1" fill="#cdd4de"/>
<rect x="85" y="799" width="1" height="1" fill="#cdd4de"/>
<rect x="85" y="804" width="1" height="1" fill="#cdd4de"/>
<rect x="85" y="808" width="1" height="1" fill="#cdd4de"/>
<rect x="85" y="813" width="1" height="1" fill="#cdd4de"/>
<rect x="85" y="818" width="1" height="1" fill="#cdd4de"/>
<rect x="85" y="823" width="1" height="1" fill="#cdd4de"/>
<rect x="85" y="828" width="1" height="1" fill="#cdd4de"/>
<rect x="85" y="833" width="1" height="1" fill="#cdd4de"/>
<rect x="85" y="838" width="1" height="1" fill="#cdd4de"/>
<rect x="85" y="843" width="1" height="1" fill="#cdd4de"/>
<rect x="85" y="848" width="1" height="1" fill="#cdd4de"/>
<rect x="85" y="853" width="1" height="1" fill="#cdd4de"/>
<rect x="85" y="858" width="1" height="1" fill="#cdd4de"/>
<rect x="85" y="863" width="1" height="1" fill="#cdd4de"/>
<rect x="85" y="868" width="1" height="1" fill="#cdd4de"/>
<rect x="85" y="873" width="1" height="1" fill="#cdd4de"/>
<rect x="85" y="878" width="1" height="1" fill="#cdd4de"/>
<rect x="85" y="883" width="1" height="1" fill="#cdd4de"/>
<rect x="85" y="888" width="1" height="1" fill="#cdd4de"/>
<rect x="85" y="892" width="1" height="1" fill="#cdd4de"/>
<rect x="85" y="897" width="1" height="1" fill="#cdd4de"/>
<rect x="85" y="902" width="1" height="1" fill="#cdd4de"/>
<rect x="85" y="907" width="1" height="1" fill="#cdd4de"/>
<rect x="85" y="912" width="1" height="1" fill="#cdd4de"/>
<rect x="85" y="917" width="1" height="1" fill="#cdd4de"/>
<line x1="86.5" y1="22" x2="86.5" y2="923" stroke="#e3e9f2" stroke-width="1"/>
<g shape-rendering="crispEdges"><rect x="90" y="818" width="1" height="15" fill="#5a9f53"/><rect x="97" y="818" width="1" height="25" fill="#5a9f53"/><rect x="104" y="818" width="1" height="35" fill="#5a9f53"/><rect x="111" y="818" width="1" height="35" fill="#5a9f53"/><rect x="118" y="818" width="1" height="17" fill="#5a9f53"/><rect x="125" y="818" width="1" height="10" fill="#5a9f53"/><rect x="132" y="805" width="1" height="14" fill="#d1443e"/><rect x="139" y="788" width="1" height="31" fill="#d1443e"/><rect x="146" y="785" width="1" height="34" fill="#d1443e"/><rect x="153" y="787" width="1" height="32" fill="#d1443e"/><rect x="160" y="778" width="1" height="41" fill="#d1443e"/><rect x="167" y="774" width="1" height="45" fill="#d1443e"/><rect x="174" y="764" width="1" height="55" fill="#d1443e"/><rect x="181" y="776" width="1" height="43" fill="#d1443e"/><rect x="188" y="780" width="1" height="39" fill="#d1443e"/><rect x="195" y="784" width="1" height="35" fill="#d1443e"/><rect x="202" y="809" width="1" height="10" fill="#d1443e"/><rect x="209" y="818" width="1" height="17" fill="#5a9f53"/><rect x="216" y="818" width="1" height="31" fill="#5a9f53"/><rect x="223" y="818" width="1" height="34" fill="#5a9f53"/><rect x="230" y="818" width="1" height="25" fill="#5a9f53"/><rect x="237" y="818" width="1" height="10" fill="#5a9f53"/><rect x="244" y="818" width="1" height="2" fill="#5a9f53"/><rect x="251" y="806" width="1" height="13" fill="#d1443e"/><rect x="258" y="785" width="1" height="34" fill="#d1443e"/><rect x="265" y="818" width="1" height="1" fill="#5a9f53"/><rect x="272" y="818" width="1" height="25" fill="#5a9f53"/><rect x="279" y="818" width="1" height="30" fill="#5a9f53"/><rect x="286" y="818" width="1" height="35" fill="#5a9f53"/><rect x="293" y="818" width="1" height="38" fill="#5a9f53"/><rect x="300" y="818" width="1" height="30" fill="#5a9f53"/><rect x="307" y="818" width="1" height="18" fill="#5a9f53"/><rect x="314" y="818" width="1" height="14" fill="#5a9f53"/><rect x="321" y="818" width="1" height="17" fill="#5a9f53"/><rect x="328" y="818" width="1" height="13" fill="#5a9f53"/><rect x="335" y="818" width="1" height="16" fill="#5a9f53"/><rect x="342" y="818" width="1" height="10" fill="#5a9f53"/><rect x="349" y="818" width="1" height="8" fill="#5a9f53"/><rect x="356" y="818" width="1" height="10" fill="#5a9f53"/><rect x="363" y="815" width="1" height="4" fill="#d1443e"/><rect x="370" y="818" width="1" height="8" fill="#5a9f53"/><rect x="377" y="818" width="1" height="4" fill="#5a9f53"/><rect x="384" y="818" width="1" height="6" fill="#5a9f53"/><rect x="391" y="818" width="1" height="6" fill="#5a9f53"/><rect x="398" y="818" width="1" height="10" fill="#5a9f53"/><rect x="405" y="818" width="1" height="10" fill="#5a9f53"/><rect x="412" y="818" width="1" height="8" fill="#5a9f53"/><rect x="419" y="809" width="1" height="10" fill="#d1443e"/><rect x="426" y="804" width="1" height="15" fill="#d1443e"/><rect x="433" y="798" width="1" height="21" fill="#d1443e"/><rect x="440" y="809" width="1" height="10" fill="#d1443e"/><rect x="447" y="815" width="1" height="4" fill="#d1443e"/><rect x="454" y="818" width="1" height="1" fill="#5a9f53"/><rect x="461" y="818" width="1" height="4" fill="#5a9f53"/><rect x="468" y="818" width="1" height="7" fill="#5a9f53"/><rect x="475" y="818" width="1" height="3" fill="#5a9f53"/><rect x="482" y="818" width="1" height="4" fill="#5a9f53"/><rect x="489" y="818" width="1" height="15" fill="#5a9f53"/><rect x="496" y="818" width="1" height="13" fill="#5a9f53"/><rect x="503" y="816" width="1" height="3" fill="#d1443e"/><rect x="510" y="808" width="1" height="11" fill="#d1443e"/><rect x="517" y="808" width="1" height="11" fill="#d1443e"/><rect x="524" y="810" width="1" height="9" fill="#d1443e"/><rect x="531" y="796" width="1" height="23" fill="#d1443e"/><rect x="538" y="781" width="1" height="38" fill="#d1443e"/><rect x="545" y="780" width="1" height="39" fill="#d1443e"/><rect x="552" y="794" width="1" height="25" fill="#d1443e"/><rect x="559" y="813" width="1" height="6" fill="#d1443e"/><rect x="566" y="818" width="1" height="17" fill="#5a9f53"/><rect x="573" y="818" width="1" height="24" fill="#5a9f53"/><rect x="580" y="818" width="1" height="24" fill="#5a9f53"/><rect x="587" y="807" width="1" height="12" fill="#d1443e"/><rect x="594" y="770" width="1" height="49" fill="#d1443e"/><rect x="601" y="747" width="1" height="72" fill="#d1443e"/><rect x="608" y="738" width="1" height="81" fill="#d1443e"/><rect x="615" y="762" width="1" height="57" fill="#d1443e"/><rect x="622" y="772" width="1" height="47" fill="#d1443e"/><rect x="629" y="788" width="1" height="31" fill="#d1443e"/><rect x="636" y="811" width="1" height="8" fill="#d1443e"/><rect x="643" y="818" width="1" height="17" fill="#5a9f53"/><rect x="650" y="818" width="1" height="28" fill="#5a9f53"/><rect x="657" y="818" width="1" height="31" fill="#5a9f53"/><rect x="664" y="818" width="1" height="18" fill="#5a9f53"/><rect x="671" y="818" width="1" height="12" fill="#5a9f53"/><rect x="678" y="818" width="1" height="3" fill="#5a9f53"/><rect x="685" y="812" width="1" height="7" fill="#d1443e"/><rect x="692" y="811" width="1" height="8" fill="#d1443e"/><rect x="699" y="818" width="1" height="4" fill="#5a9f53"/><rect x="706" y="818" width="1" height="4" fill="#5a9f53"/><rect x="713" y="807" width="1" height="12" fill="#d1443e"/><rect x="720" y="802" width="1" height="17" fill="#d1443e"/><rect x="727" y="802" width="1" height="17" fill="#d1443e"/><rect x="734" y="811" width="1" height="8" fill="#d1443e"/><rect x="741" y="814" width="1" height="5" fill="#d1443e"/><rect x="748" y="818" width="1" height="12" fill="#5a9f53"/><rect x="755" y="818" width="1" height="18" fill="#5a9f53"/><rect x="762" y="818" width="1" height="16" fill="#5a9f53"/></g>
<polyline points="90.5,805.1 97.5,808.6 104.5,812.5 111.5,815.9 118.5,818.2 125.5,819.5 132.5,818.2 139.5,814.3 146.5,810.9 153.5,807.4 160.5,802.9 167.5,797.1 174.5,790.3 181.5,784.6 188.5,780.0 195.5,775.5 202.5,774.4 209.5,777.3 216.5,781.4 223.5,785.9 230.5,788.6 237.5,789.7 244.5,789.7 251.5,788.1 258.5,784.7 265.5,784.7 272.5,788.1 279.5,791.9 286.5,796.0 293.5,801.0 300.5,803.6 307.5,805.9 314.5,807.7 321.5,810.4 328.5,811.8 335.5,813.8 342.5,815.6 349.5,816.3 356.5,817.4 363.5,817.4 370.5,817.8 377.5,819.0 384.5,819.4 391.5,820.1 398.5,821.2 405.5,822.3 412.5,823.0 419.5,821.7 426.5,820.1 433.5,818.5 440.5,817.8 447.5,816.7 454.5,817.2 461.5,817.8 468.5,818.5 475.5,818.5 482.5,819.4 489.5,820.8 496.5,821.9 503.5,822.3 510.5,821.2 517.5,820.1 524.5,819.4 531.5,816.7 538.5,812.2 545.5,808.2 552.5,805.0 559.5,803.2 566.5,804.8 573.5,807.7 580.5,810.6 587.5,809.3 594.5,803.2 601.5,794.2 608.5,785.2 615.5,777.3 622.5,771.7 629.5,768.7 636.5,768.7 643.5,770.5 650.5,773.9 657.5,777.3 664.5,779.5 671.5,781.1 678.5,781.1 685.5,780.7 692.5,780.2 699.5,780.7 706.5,780.7 713.5,778.9 720.5,776.8 727.5,775.0 734.5,774.4 741.5,774.4 748.5,776.6 755.5,778.4 762.5,780.2" fill="none" stroke="#1010a0" stroke-width="1" stroke-linejoin="round" shape-rendering="crispEdges"/>
<polyline points="90.5,812.0 97.5,821.1 104.5,829.1 111.5,834.2 118.5,826.9 125.5,825.3 132.5,812.0 139.5,799.4 146.5,793.7 153.5,790.3 160.5,781.1 167.5,774.3 174.5,763.5 181.5,764.7 188.5,761.3 195.5,759.2 202.5,771.7 209.5,785.2 216.5,796.4 223.5,801.4 230.5,800.3 237.5,794.2 244.5,790.4 251.5,781.8 258.5,768.3 265.5,784.1 272.5,799.4 279.5,805.5 286.5,812.2 293.5,818.5 300.5,818.5 307.5,815.6 314.5,815.6 321.5,818.5 328.5,818.5 335.5,822.3 342.5,819.4 349.5,819.4 356.5,820.8 363.5,815.6 370.5,820.8 377.5,819.4 384.5,820.8 391.5,822.3 398.5,825.7 405.5,827.5 412.5,827.3 419.5,816.7 426.5,813.3 433.5,808.8 440.5,813.8 447.5,815.6 454.5,817.8 461.5,819.0 468.5,820.8 475.5,819.6 482.5,820.8 489.5,828.0 496.5,829.8 503.5,820.8 510.5,816.0 517.5,815.1 524.5,815.1 531.5,805.5 538.5,793.1 545.5,788.6 552.5,791.3 559.5,800.5 566.5,812.2 573.5,819.0 580.5,823.0 587.5,802.1 594.5,777.3 601.5,757.0 608.5,745.8 615.5,750.3 622.5,749.6 629.5,753.6 636.5,764.9 643.5,778.4 650.5,787.4 657.5,793.5 664.5,789.7 671.5,787.4 678.5,782.9 685.5,778.4 692.5,776.6 699.5,782.3 706.5,782.3 713.5,773.9 720.5,770.5 727.5,767.2 734.5,771.0 741.5,772.8 748.5,781.8 755.5,787.4 762.5,787.4" fill="none" stroke="#000" stroke-width="1" stroke-linejoin="round" shape-rendering="crispEdges"/>
<line x1="16" y1="923.5" x2="888" y2="923.5" stroke="#dde3ec" stroke-width="1"/>
<line x1="16" y1="943.5" x2="888" y2="943.5" stroke="#d8dde6" stroke-width="1"/>
<line x1="85.5" y1="924" x2="85.5" y2="943" stroke="#dde3ec" stroke-width="1"/>
<text x="30.20" y="938.90" font-size="12.8" fill="#ff6a00" text-anchor="start" font-weight="bold" font-family="Liberation Sans, Noto Sans CJK SC, sans-serif" textLength="25.00" lengthAdjust="spacingAndGlyphs">日线</text>
<path d="M60.3 938.2 L64.9 929.4 L69.5 938.2 Z" fill="#ff6a00"/>
<rect x="100.5" y="924.5" width="110" height="16" fill="#fff" stroke="#e8ebf0" stroke-width="1"/>
<text x="102.20" y="937.00" font-size="13" fill="#ff7a1a" text-anchor="start" font-weight="normal" font-family="Liberation Sans, sans-serif" textLength="66.30" lengthAdjust="spacingAndGlyphs">2025/07/01</text>
<text x="172.00" y="937.40" font-size="12.2" fill="#ff7a1a" text-anchor="start" font-family="Liberation Sans, Noto Sans CJK SC, sans-serif" textLength="36.40" lengthAdjust="spacingAndGlyphs">星期二</text>
<rect x="265" y="924" width="1" height="5" fill="#d3dae4"/>
<text x="267.20" y="936.00" font-size="12" fill="#15152a" text-anchor="start" font-weight="bold" font-family="Liberation Sans, sans-serif" textLength="44.60" lengthAdjust="spacingAndGlyphs">2025/08</text>
<rect x="412" y="924" width="1" height="5" fill="#d3dae4"/>
<text x="414.20" y="936.00" font-size="12" fill="#15152a" text-anchor="start" font-weight="bold" font-family="Liberation Sans, sans-serif" textLength="44.60" lengthAdjust="spacingAndGlyphs">2025/09</text>
<rect x="566" y="924" width="1" height="5" fill="#d3dae4"/>
<text x="568.40" y="936.00" font-size="12" fill="#15152a" text-anchor="start" font-weight="bold" font-family="Liberation Sans, sans-serif" textLength="44.60" lengthAdjust="spacingAndGlyphs">2025/10</text>
<rect x="728" y="924" width="1" height="5" fill="#d3dae4"/>
<text x="729.90" y="936.00" font-size="12" fill="#15152a" text-anchor="start" font-weight="bold" font-family="Liberation Sans, sans-serif" textLength="44.60" lengthAdjust="spacingAndGlyphs">2025/11</text>
<line x1="16" y1="958.5" x2="888" y2="958.5" stroke="#dfe3ea" stroke-width="1"/>
<rect x="0" y="958" width="16" height="1" fill="#c9cdd5"/>
<rect x="16" y="943" width="39" height="15" fill="#ff6600"/>
<rect x="55" y="944" width="1" height="14" fill="#cfd4de"/>
<text x="23.40" y="955.80" font-size="12" fill="#fff" text-anchor="start" font-family="Liberation Sans, Noto Sans CJK SC, sans-serif" textLength="24" lengthAdjust="spacingAndGlyphs">指标</text>
<rect x="95" y="944" width="1" height="14" fill="#cfd4de"/>
<text x="63.25" y="955.80" font-size="12" fill="#111" text-anchor="start" font-family="Liberation Sans, Noto Sans CJK SC, sans-serif" textLength="24" lengthAdjust="spacingAndGlyphs">模板</text>
<rect x="153" y="944" width="1" height="14" fill="#cfd4de"/>
<text x="104.30" y="955.30" font-size="12.5" fill="#ff6a00" text-anchor="start" font-weight="normal" font-family="Liberation Serif, sans-serif" textLength="17.20" lengthAdjust="spacingAndGlyphs">VIP</text>
<text x="122.30" y="955.80" font-size="12" fill="#ff6a00" text-anchor="start" font-family="Liberation Sans, Noto Sans CJK SC, sans-serif" textLength="24" lengthAdjust="spacingAndGlyphs">指标</text>
<rect x="181" y="944" width="1" height="14" fill="#cfd4de"/>
<text x="167.00" y="955.30" font-size="12.5" fill="#1a1a24" text-anchor="middle" font-weight="normal" font-family="Liberation Serif, sans-serif" textLength="12.50" lengthAdjust="spacingAndGlyphs" stroke="#1a1a24" stroke-width="0.25">MA</text>
<rect x="222" y="944" width="1" height="14" fill="#cfd4de"/>
<text x="201.50" y="955.30" font-size="12.5" fill="#1a1a24" text-anchor="middle" font-weight="normal" font-family="Liberation Serif, sans-serif" textLength="24.50" lengthAdjust="spacingAndGlyphs" stroke="#1a1a24" stroke-width="0.25">MACD</text>
<rect x="261" y="944" width="1" height="14" fill="#cfd4de"/>
<text x="241.75" y="955.30" font-size="12.5" fill="#1a1a24" text-anchor="middle" font-weight="normal" font-family="Liberation Serif, sans-serif" textLength="24.50" lengthAdjust="spacingAndGlyphs" stroke="#1a1a24" stroke-width="0.25">BOLL</text>
<rect x="295" y="944" width="1" height="14" fill="#cfd4de"/>
<text x="278.25" y="955.30" font-size="12.5" fill="#1a1a24" text-anchor="middle" font-weight="normal" font-family="Liberation Serif, sans-serif" textLength="18.50" lengthAdjust="spacingAndGlyphs" stroke="#1a1a24" stroke-width="0.25">VOL</text>
<rect x="335" y="944" width="1" height="14" fill="#cfd4de"/>
<text x="315.00" y="955.30" font-size="12.5" fill="#1a1a24" text-anchor="middle" font-weight="normal" font-family="Liberation Serif, sans-serif" textLength="24.50" lengthAdjust="spacingAndGlyphs" stroke="#1a1a24" stroke-width="0.25">BIAS</text>
<rect x="369" y="944" width="1" height="14" fill="#cfd4de"/>
<text x="352.25" y="955.30" font-size="12.5" fill="#1a1a24" text-anchor="middle" font-weight="normal" font-family="Liberation Serif, sans-serif" textLength="18.50" lengthAdjust="spacingAndGlyphs" stroke="#1a1a24" stroke-width="0.25">CCI</text>
<rect x="403" y="944" width="1" height="14" fill="#cfd4de"/>
<text x="386.25" y="955.30" font-size="12.5" fill="#1a1a24" text-anchor="middle" font-weight="normal" font-family="Liberation Serif, sans-serif" textLength="18.50" lengthAdjust="spacingAndGlyphs" stroke="#1a1a24" stroke-width="0.25">KDJ</text>
<rect x="443" y="944" width="1" height="14" fill="#cfd4de"/>
<text x="423.25" y="955.30" font-size="12.5" fill="#1a1a24" text-anchor="middle" font-weight="normal" font-family="Liberation Serif, sans-serif" textLength="18.50" lengthAdjust="spacingAndGlyphs" stroke="#1a1a24" stroke-width="0.25">LW&amp;</text>
<rect x="477" y="944" width="1" height="14" fill="#cfd4de"/>
<text x="460.25" y="955.30" font-size="12.5" fill="#1a1a24" text-anchor="middle" font-weight="normal" font-family="Liberation Serif, sans-serif" textLength="18.50" lengthAdjust="spacingAndGlyphs" stroke="#1a1a24" stroke-width="0.25">RSI</text>
<rect x="505" y="944" width="1" height="14" fill="#cfd4de"/>
<text x="491.00" y="955.30" font-size="12.5" fill="#1a1a24" text-anchor="middle" font-weight="normal" font-family="Liberation Serif, sans-serif" textLength="12.50" lengthAdjust="spacingAndGlyphs" stroke="#1a1a24" stroke-width="0.25">CR</text>
<rect x="539" y="944" width="1" height="14" fill="#cfd4de"/>
<text x="522.25" y="955.30" font-size="12.5" fill="#1a1a24" text-anchor="middle" font-weight="normal" font-family="Liberation Serif, sans-serif" textLength="18.50" lengthAdjust="spacingAndGlyphs" stroke="#1a1a24" stroke-width="0.25">PSY</text>
<rect x="579" y="944" width="1" height="14" fill="#cfd4de"/>
<text x="547.50" y="955.80" font-size="12" fill="#111" text-anchor="start" font-family="Liberation Sans, Noto Sans CJK SC, sans-serif" textLength="24" lengthAdjust="spacingAndGlyphs">设置</text>
<text x="757.8" y="935.6" font-size="30" letter-spacing="2.6" fill="#b09c8c" font-family="Liberation Sans, sans-serif" opacity="0.85" transform="translate(1.2 1.1)">FX678</text>
<text x="757.8" y="935.6" font-size="30" letter-spacing="2.6" fill="#dce8f8" font-family="Liberation Sans, sans-serif">FX678</text>
<rect x="738" y="959.6" width="150" height="3.4" fill="#b2b2b6"/>
<circle cx="828" cy="965.2" r="4.4" fill="#4a4a50"/>
</svg>
</body></html>
